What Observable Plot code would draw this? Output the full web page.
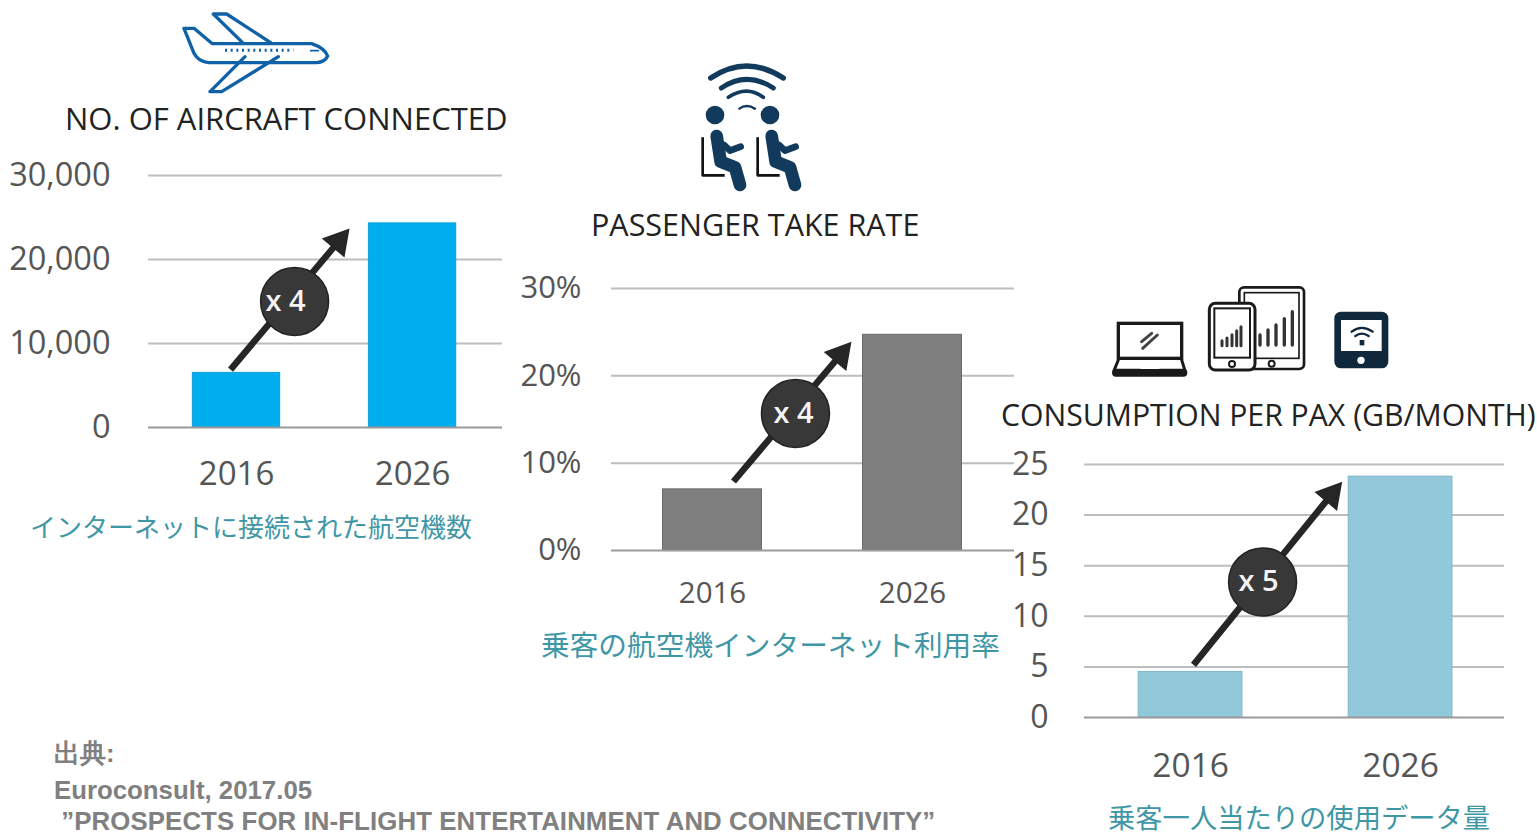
<!DOCTYPE html>
<html lang="ja">
<head>
<meta charset="utf-8">
<script src="https://cdn.jsdelivr.net/npm/d3@7"></script>
<script src="https://cdn.jsdelivr.net/npm/@observablehq/plot@0.6"></script>
<style>
html,body{margin:0;padding:0;background:#fff;width:1537px;height:835px;overflow:hidden}
#page{position:relative;width:1537px;height:835px;overflow:hidden}
.abs{position:absolute;white-space:nowrap;line-height:1}
.title{font-family:"Open Sans",sans-serif;color:#222}
.jp{font-family:"Noto Sans CJK JP",sans-serif;color:#3f97a6}
.src{font-family:"Liberation Sans",Arial,sans-serif;font-weight:bold;color:#808080;font-size:25.8px}
svg.icon{position:absolute;overflow:visible}
</style>
</head>
<body>
<div id="page">
<svg class="icon" style="left:170px;top:5px" width="170" height="95" viewBox="510 15 510 285" fill="none" stroke="#0f62a8" stroke-width="10" stroke-linejoin="round" stroke-linecap="round">
<path d="M552 85H582L637 131H935Q975 145 983 168Q975 186 950 188H625Q595 185 582 160Z"/>
<path d="M730 130L640 42H680L815 130"/>
<path d="M735 170L630 275H665L835 170"/>
<path d="M675 151H880" stroke-width="9" stroke-dasharray="6 11" stroke-linecap="butt"/>
<path d="M932 152H955" stroke-width="5"/>
</svg>
<svg class="icon" style="left:680px;top:50px" width="140" height="150" viewBox="0 0 420 450" fill="none" stroke="#123a5c" stroke-linecap="round" stroke-linejoin="round">
<path d="M92 84Q200 12 310 84" stroke-width="16"/>
<path d="M124 114Q200 62 280 114" stroke-width="15"/>
<path d="M145 142Q200 105 250 142" stroke-width="11"/>
<path d="M178 176Q200 160 225 176" stroke-width="7"/>
<g>
<circle cx="105" cy="195" r="28" fill="#123a5c" stroke="none"/>
<path d="M68 262V376H134" stroke="#111" stroke-width="8" stroke-linecap="butt"/>
<path d="M110 258L122 335L165 352L180 405" stroke-width="38"/>
<path d="M132 285L150 302L182 290" stroke-width="20"/>
</g>
<g transform="translate(165,0)">
<circle cx="105" cy="195" r="28" fill="#123a5c" stroke="none"/>
<path d="M68 262V376H134" stroke="#111" stroke-width="8" stroke-linecap="butt"/>
<path d="M110 258L122 335L165 352L180 405" stroke-width="38"/>
<path d="M132 285L150 302L182 290" stroke-width="20"/>
</g>
</svg>
<svg class="icon" style="left:1100px;top:280px" width="300" height="100" viewBox="0 0 900 300" fill="none" stroke="#1a1a1a" stroke-linecap="round">
<rect x="55" y="130" width="190" height="105" stroke-width="10"/>
<path d="M48 278H250" stroke-width="24"/>
<path d="M125 262H175" stroke="#fff" stroke-width="10"/>
<path d="M55 240L42 272M245 240L255 272" stroke-width="9"/>
<path d="M125 185L155 160M128 205L172 165" stroke-width="9" stroke="#444"/>
<rect x="418" y="22" width="194" height="245" rx="14" stroke-width="8"/>
<rect x="433" y="38" width="164" height="197" stroke-width="5"/>
<circle cx="515" cy="251" r="9" stroke-width="6"/>
<rect x="328" y="70" width="137" height="200" rx="18" fill="#fff" stroke-width="9"/>
<rect x="343" y="85" width="107" height="148" stroke-width="6"/>
<circle cx="396" cy="252" r="9" stroke-width="6"/>
<path d="M366 197V182M381 197V174M396 197V164M410 197V152M423 197V140" stroke-width="9" stroke="#333"/>
<path d="M480 195V165M504 195V150M528 195V135M553 195V116M577 195V95" stroke-width="10" stroke="#333"/>
<rect x="703" y="95" width="162" height="170" rx="20" fill="#10283c" stroke="none"/>
<rect x="723" y="120" width="122" height="93" fill="#fff" stroke="none"/>
<circle cx="783" cy="241" r="11" fill="#fff" stroke="none"/>
<path d="M755 155Q785 132 818 155M766 168Q785 154 806 168" stroke-width="7" stroke="#10283c"/>
<path d="M786 180V196" stroke-width="14" stroke="#10283c" stroke-linecap="butt"/>
</svg>
<div class="abs title" style="left:65px;top:103px;font-size:31px">NO. OF AIRCRAFT CONNECTED</div>
<div class="abs title" style="left:591px;top:209px;font-size:30.5px">PASSENGER TAKE RATE</div>
<div class="abs title" style="left:1001px;top:400px;font-size:30.2px">CONSUMPTION PER PAX (GB/MONTH)</div>
<div class="abs jp" style="left:30px;top:513px;font-size:26px">インターネットに接続された航空機数</div>
<div class="abs jp" style="left:541px;top:630px;font-size:28.7px">乗客の航空機インターネット利用率</div>
<div class="abs jp" style="left:1108px;top:803px;font-size:27.3px">乗客一人当たりの使用データ量</div>
<div class="abs src" style="left:54px;top:741px">出典:</div>
<div class="abs src" style="left:54px;top:778px">Euroconsult, 2017.05</div>
<div class="abs src" style="left:54px;top:809px;letter-spacing:.1px">&nbsp;”PROSPECTS FOR IN-FLIGHT ENTERTAINMENT AND CONNECTIVITY”</div>
</div>
<script>
const years = [2016, 2026];

const aircraftValues = [6500, 24300];
const aircraftTicks = [0, 10000, 20000, 30000];
const takeRateValues = [7, 24.7];
const takeRateTicks = [0, 10, 20, 30];
const consumptionValues = [4.5, 23.8];
const consumptionTicks = [0, 5, 10, 15, 20, 25];

const aircraftArrow = {x1: 2015.66, y1: 6900, x2: 2021.8, y2: 22140, cx: 2019.3, cy: 15000, label: "x 4"};
const takeRateArrow = {x1: 2017.05, y1: 7.9, x2: 2022.4, y2: 22.4, cx: 2020.15, cy: 15.7, label: "x 4"};
const consumptionArrow = {x1: 2016.14, y1: 5.2, x2: 2022.7, y2: 22.0, cx: 2019.43, cy: 13.4, label: "x 5"};

function chart(o) {
  const bars = years.map((year, i) => ({year, value: o.values[i]}));
  const arrow = [o.arrow];
  const svg = Plot.plot({
    width: o.width, height: o.height,
    marginLeft: o.ml, marginRight: o.mr, marginTop: o.mt, marginBottom: o.mb,
    style: {background: "transparent", overflow: "visible", maxWidth: "none", fontFamily: "'Open Sans',sans-serif"},
    x: {domain: o.xDomain},
    y: {domain: o.yDomain},
    marks: [
      Plot.ruleY(o.ticks.filter(d => d !== 0), {y: d => d, stroke: "#bdbdbd", strokeWidth: 2}),
      Plot.rectY(bars, {x1: d => d.year - o.half, x2: d => d.year + o.half, y1: 0, y2: "value", fill: o.fill, stroke: o.edge, strokeWidth: 1}),
      Plot.ruleY([0], {stroke: "#9a9a9a", strokeWidth: 2}),
      Plot.axisY({ticks: o.ticks, tickFormat: o.format, tickSize: 0, tickPadding: o.padY, fontSize: o.fsY, fill: "#555", label: null}),
      Plot.axisX({ticks: years, tickFormat: d => String(d), tickSize: 0, tickPadding: o.padX, fontSize: o.fsX, fill: "#555", label: null}),
      Plot.link(arrow, {x1: "x1", y1: "y1", x2: "x2", y2: "y2", stroke: "#262626", strokeWidth: 6.5}),
      Plot.dot(arrow, {x: "x2", y: "y2", symbol: "triangle", rotate: 40, r: 10, fill: "#262626", stroke: "#262626"}),
      Plot.dot(arrow, {x: "cx", y: "cy", r: 34, fill: "#383838", stroke: "#222222", strokeWidth: 1.5}),
      Plot.text(arrow, {x: "cx", y: "cy", text: "label", dx: o.labelDx, fill: "#f4f4f4", fontSize: 29, fontWeight: 600})
    ]
  });
  svg.style.position = "absolute";
  svg.style.left = o.left + "px";
  svg.style.top = o.top + "px";
  document.getElementById("page").appendChild(svg);
}

chart({values: aircraftValues, ticks: aircraftTicks, arrow: aircraftArrow, format: d3.format(","),
  left: 0, top: 150, width: 520, height: 350, ml: 148, mr: 18, mt: 25, mb: 73,
  xDomain: [2011, 2031.11], yDomain: [0, 30000], half: 2.48, labelDx: -9,
  fill: "#00aeef", edge: "#0d9fd6", padY: 38, padX: 34, fsY: 32.5, fsX: 33});
chart({values: takeRateValues, ticks: takeRateTicks, arrow: takeRateArrow, format: d => d + "%",
  left: 500, top: 260, width: 530, height: 360, ml: 111, mr: 16, mt: 28, mb: 70,
  xDomain: [2010.95, 2031.1], yDomain: [0, 30], half: 2.475, labelDx: -2,
  fill: "#7f7f7f", edge: "#6b6b6b", padY: 30, padX: 32, fsY: 31, fsX: 29.5});
chart({values: consumptionValues, ticks: consumptionTicks, arrow: consumptionArrow, format: d => String(d),
  left: 1000, top: 440, width: 537, height: 370, ml: 84, mr: 33, mt: 24, mb: 93,
  xDomain: [2010.95, 2030.95], yDomain: [0, 25], half: 2.47, labelDx: -4,
  fill: "#92c9da", edge: "#7db6c8", padY: 36, padX: 36, fsY: 32, fsX: 33.5});
</script>
</body>
</html>
